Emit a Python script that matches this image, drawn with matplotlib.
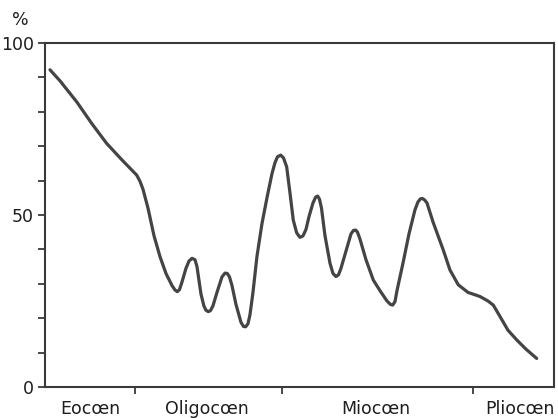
import numpy as np
import matplotlib
matplotlib.use("Agg")
import matplotlib.pyplot as plt
from matplotlib.transforms import blended_transform_factory

# =========================
# Data
# x: horizontal position along the time axis (arbitrary units, 0-509)
# pct: percentage
# =========================
x = [5, 15, 31.7, 47, 61.7, 77, 91.7, 95, 98, 103, 109, 115, 121, 127,
     130, 132.3, 134.5, 137, 141, 144, 147, 150, 152, 154, 156, 159, 161,
     163.3, 165.5, 168, 172, 177, 180, 182.3, 184.5, 187, 191, 196, 198.5,
     200.7, 203, 205, 208, 212, 217, 222, 227, 230, 232.5, 235.7, 238.5,
     241.7, 245, 248.3, 251.7, 255, 258, 261, 264, 268, 270.7, 272.7, 274.5,
     276.5, 280, 285, 288, 291, 293.5, 296, 301, 306, 308.5, 310.7, 312.5,
     315, 321, 328.3, 335, 342, 345.5, 347.7, 350, 352, 358, 364, 370, 373,
     375.5, 377.3, 379.5, 382, 388, 398.3, 405, 413.3, 423, 435, 443,
     448.3, 455, 463, 471.7, 481, 491.7]
pct = [92.2, 89.0, 82.9, 76.5, 70.8, 66.0, 61.6, 59.8, 57.5, 52.0, 44.0,
       37.9, 33.0, 29.5, 28.2, 27.7, 28.3, 30.5, 34.5, 36.6, 37.4, 37.0,
       35.0, 31.0, 27.0, 23.5, 22.3, 21.9, 22.2, 23.6, 27.5, 32.0, 33.1,
       33.0, 32.0, 29.5, 24.0, 18.8, 17.6, 17.5, 18.4, 21.0, 27.5, 38.0,
       47.5, 55.0, 62.0, 65.2, 66.9, 67.4, 66.6, 64.0, 56.4, 48.5, 44.8,
       43.5, 43.9, 45.8, 49.5, 53.5, 55.2, 55.5, 54.6, 52.0, 44.0, 36.0,
       33.0, 32.1, 32.6, 34.5, 39.5, 44.5, 45.5, 45.6, 45.0, 43.0, 37.0,
       31.1, 28.0, 25.0, 24.0, 23.8, 24.8, 28.0, 36.0, 44.5, 51.5, 53.8,
       54.7, 54.8, 54.4, 53.5, 48.0, 39.8, 34.0, 29.7, 27.5, 26.3, 25.0,
       23.8, 20.5, 16.5, 13.7, 11.0, 8.3]

epoch_names = ["Eocœn", "Oligocœn", "Miocœn", "Pliocœn"]
epoch_label_pos = [45.5, 162, 331, 475]
epoch_bounds = [90, 237, 428]

# =========================
# Plot
# =========================
ink = "#3a3a3a"
plt.rcParams["font.family"] = ["DejaVu Sans"]

fig = plt.figure(figsize=(5.58, 4.18), dpi=100)
ax = fig.add_axes([0.0806, 0.0742, 0.9122, 0.823])

ax.plot(x, pct, color="#444444", lw=2.3, solid_capstyle="round", solid_joinstyle="round")

ax.set_xlim(0, 509)
ax.set_ylim(0, 100)

ax.set_yticks([0, 50, 100])
ax.set_yticks(np.arange(0, 101, 10), minor=True)
ax.set_xticks(epoch_bounds)
ax.set_xticklabels([])
ax.tick_params(axis="y", which="major", direction="out", length=5, width=1.3,
               color=ink, labelsize=12.5, labelcolor="#1e1e1e", pad=3)
ax.tick_params(axis="y", which="minor", direction="out", length=5, width=1.3, color=ink)
ax.tick_params(axis="x", which="major", direction="out", length=5, width=1.3, color=ink)

for s in ax.spines.values():
    s.set_color(ink)
    s.set_linewidth(1.5)

trans = blended_transform_factory(ax.transData, ax.transAxes)
for name, xp in zip(epoch_names, epoch_label_pos):
    ax.text(xp, -0.065, name, transform=trans, ha="center", va="center",
            fontsize=12.5, color="#1e1e1e")

fig.text(20 / 558, 1 - 20 / 418, "%", ha="center", va="center",
         fontsize=12.5, color="#1e1e1e")

fig.savefig("out.png", dpi=100, facecolor="white")
